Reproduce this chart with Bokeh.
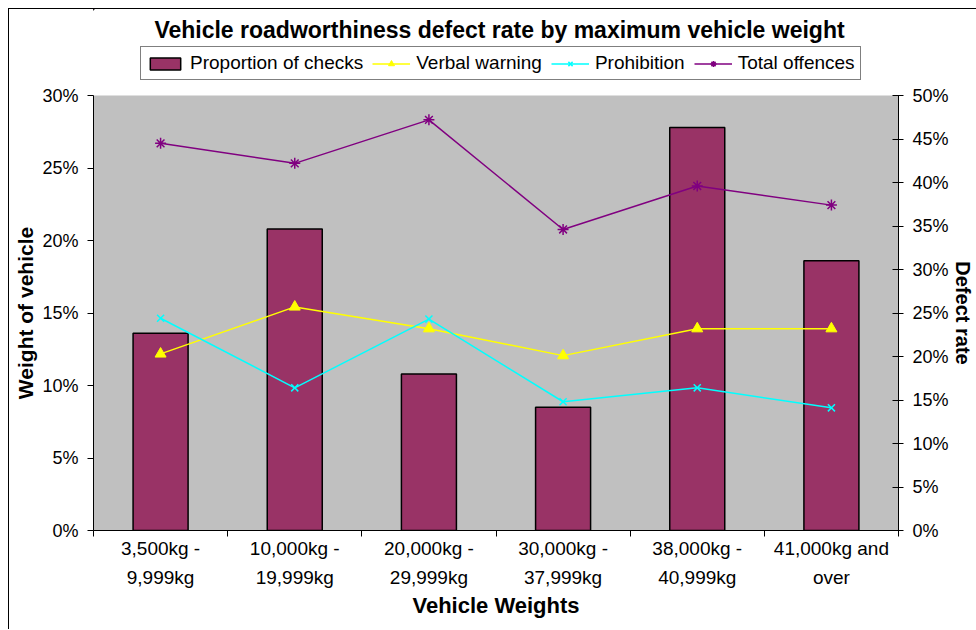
from bokeh.plotting import figure
from bokeh.layouts import column
from bokeh.models import (Range1d, LinearAxis, FixedTicker, PrintfTickFormatter,
                          Legend, LegendItem, Label)
from bokeh.embed import file_html
from bokeh.resources import INLINE

# ---- data ----
categories = ["3,500kg -\n9,999kg", "10,000kg -\n19,999kg", "20,000kg -\n29,999kg",
              "30,000kg -\n37,999kg", "38,000kg -\n40,999kg", "41,000kg and\nover"]
proportion_of_checks = [13.6, 20.8, 10.8, 8.5, 27.8, 18.6]   # left axis (%)
verbal_warning = [20.3, 25.7, 23.2, 20.1, 23.2, 23.2]        # right axis (%)
prohibition = [24.4, 16.4, 24.3, 14.8, 16.4, 14.1]           # right axis (%)
total_offences = [44.5, 42.2, 47.2, 34.6, 39.6, 37.4]        # right axis (%)
left_ticks = [0, 5, 10, 15, 20, 25, 30]
right_ticks = [0, 5, 10, 15, 20, 25, 30, 35, 40, 45, 50]
series_names = ["Proportion of checks", "Verbal warning", "Prohibition", "Total offences"]
title_text = "Vehicle roadworthiness defect rate by maximum vehicle weight"

FONT = "Liberation Sans"
BAR = "#993366"
YEL = "#FFFF00"
CYA = "#00FFFF"
PUR = "#800080"
n = len(categories)
xs = [i + 0.5 for i in range(n)]

# ---------------- header: title + legend ----------------
# (legend keys are drawn by renderers whose data lie far outside this header's visible range)
hdr = figure(width=967, height=76, output_backend="svg", toolbar_location=None,
             x_range=Range1d(100, 101), y_range=Range1d(-2, -1),
             x_axis_type=None, y_axis_type=None, min_border=0,
             background_fill_color="white", border_fill_color="white",
             outline_line_color=None)
hdr.xgrid.visible = False
hdr.ygrid.visible = False

k_bar = hdr.vbar(x=xs, top=proportion_of_checks, width=0.41, fill_color=BAR,
                 line_color="black", line_width=1.5)
k_vw_l = hdr.line(xs, verbal_warning, line_color=YEL, line_width=1.5)
k_vw_m = hdr.scatter(xs, verbal_warning, marker="triangle", fill_color=YEL, line_color=YEL)
k_pr_l = hdr.line(xs, prohibition, line_color=CYA, line_width=1.5)
k_pr_m = hdr.scatter(xs, prohibition, marker="x", line_color=CYA, line_width=1.5)
k_to_l = hdr.line(xs, total_offences, line_color=PUR, line_width=1.5)
k_to_m = hdr.scatter(xs, total_offences, marker="asterisk", line_color=PUR, line_width=1.5)

legend = Legend(items=[
    LegendItem(label=series_names[0], renderers=[k_bar]),
    LegendItem(label=series_names[1], renderers=[k_vw_l, k_vw_m]),
    LegendItem(label=series_names[2], renderers=[k_pr_l, k_pr_m]),
    LegendItem(label=series_names[3], renderers=[k_to_l, k_to_m]),
], location=(47, 5), orientation="horizontal",
    border_line_color="black", border_line_width=1,
    background_fill_color="white", background_fill_alpha=1,
    label_text_font=FONT, label_text_font_size="19px", label_text_color="black",
    glyph_width=38, glyph_height=15, label_standoff=6, spacing=9,
    padding=5, margin=0)
hdr.add_layout(legend)

hdr.add_layout(Label(x=406, y=56, x_units="screen", y_units="screen", text=title_text,
                     text_font=FONT, text_font_size="23px", text_font_style="bold",
                     text_color="black", text_align="center", text_baseline="alphabetic"))

# ---------------- main chart ----------------
p = figure(width=967, height=544, output_backend="svg", toolbar_location=None,
           x_range=Range1d(0, n), y_range=Range1d(0, 30),
           min_border_left=84, min_border_right=77, min_border_top=10, min_border_bottom=99,
           background_fill_color="#C0C0C0", border_fill_color="white",
           outline_line_color=None)
p.extra_y_ranges = {"rate": Range1d(0, 50)}
p.xgrid.visible = False
p.ygrid.visible = False

# x axis
xa = p.xaxis[0]
xa.ticker = FixedTicker(ticks=xs, minor_ticks=list(range(n + 1)))
xa.major_label_overrides = {x: c for x, c in zip(xs, categories)}
xa.major_tick_line_color = None
xa.major_tick_out = 0
xa.major_tick_in = 0
xa.minor_tick_out = 6
xa.minor_tick_in = 0
xa.minor_tick_line_color = "black"
xa.axis_line_color = "black"
xa.major_label_text_font = FONT
xa.major_label_text_font_size = "19px"
xa.major_label_text_color = "black"
xa.major_label_text_line_height = 1.4
xa.major_label_standoff = 1
xa.axis_label = "Vehicle Weights"
xa.axis_label_text_font = FONT
xa.axis_label_text_font_size = "22px"
xa.axis_label_text_font_style = "bold"
xa.axis_label_text_color = "black"
xa.axis_label_standoff = 2

# left axis
ya = p.yaxis[0]
ya.ticker = FixedTicker(ticks=left_ticks)
ya.formatter = PrintfTickFormatter(format="%d%%")
ya.major_tick_out = 6
ya.major_tick_in = 0
ya.minor_tick_line_color = None
ya.axis_line_color = "black"
ya.major_label_text_font = FONT
ya.major_label_text_font_size = "18px"
ya.major_label_text_color = "black"
ya.major_label_standoff = 9
ya.axis_label = "Weight of vehicle"
ya.axis_label_text_font = FONT
ya.axis_label_text_font_size = "21px"
ya.axis_label_text_font_style = "bold"
ya.axis_label_text_color = "black"
ya.axis_label_standoff = 2

# right axis
ra = LinearAxis(y_range_name="rate", ticker=FixedTicker(ticks=right_ticks),
                formatter=PrintfTickFormatter(format="%d%%"))
ra.major_tick_out = 5
ra.major_tick_in = 6
ra.minor_tick_line_color = None
ra.axis_line_color = "black"
ra.major_label_text_font = FONT
ra.major_label_text_font_size = "18px"
ra.major_label_text_color = "black"
ra.major_label_standoff = 9
ra.axis_label = "Defect rate"
ra.axis_label_text_font = FONT
ra.axis_label_text_font_size = "20px"
ra.axis_label_text_font_style = "bold"
ra.axis_label_text_color = "black"
ra.axis_label_standoff = 0
p.add_layout(ra, "right")

# glyphs
p.vbar(x=xs, top=proportion_of_checks, width=0.41, fill_color=BAR,
       line_color="black", line_width=1.5)
p.line(xs, verbal_warning, y_range_name="rate", line_color=YEL, line_width=1.5)
p.scatter(xs, verbal_warning, y_range_name="rate", marker="triangle", size=11,
          fill_color=YEL, line_color=YEL)
p.line(xs, prohibition, y_range_name="rate", line_color=CYA, line_width=1.5)
p.scatter(xs, prohibition, y_range_name="rate", marker="x", size=10,
          line_color=CYA, line_width=1.5)
p.line(xs, total_offences, y_range_name="rate", line_color=PUR, line_width=1.5)
p.scatter(xs, total_offences, y_range_name="rate", marker="asterisk", size=11,
          line_color=PUR, line_width=1.5)

layout = column(hdr, p, spacing=0,
                styles={"margin-left": "8px", "margin-top": "8px",
                        "border-left": "1px solid black", "border-top": "1px solid black"})

open("out.html", "w").write(file_html(layout, INLINE))
